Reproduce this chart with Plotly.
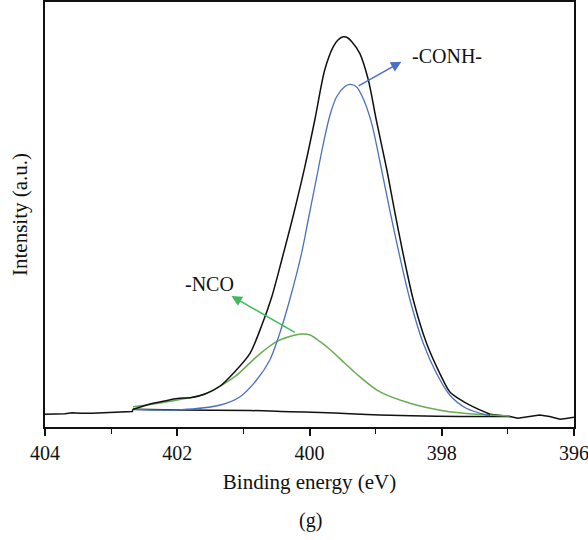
import plotly.graph_objects as go

# ---- data (binding energy in eV, intensity in arbitrary units) ----
env_e = [402.67, 402.41, 402.19, 402.00, 401.78, 401.58, 401.35, 401.13, 400.90, 400.72,
         400.57, 400.42, 400.25, 400.07, 399.92, 399.77, 399.64, 399.57, 399.49, 399.43,
         399.36, 399.24, 399.11, 398.99, 398.83, 398.71, 398.59, 398.43, 398.23, 398.03,
         397.88, 397.75, 397.53, 397.27]
env_i = [17.7, 23.0, 26.0, 28.5, 29.5, 33.0, 41.0, 55.3, 73.7, 102.0,
         130.3, 167.0, 210.3, 260.3, 307.0, 357.0, 380.3, 387.0, 390.3, 389.5,
         385.3, 373.7, 347.0, 307.0, 257.0, 215.0, 175.0, 127.0, 83.7, 53.7,
         35.3, 28.7, 20.3, 12.7]

conh_e = [402.67, 401.96, 401.35, 401.05, 400.80, 400.60, 400.45, 400.30, 400.12, 400.02,
          399.89, 399.79, 399.69, 399.59, 399.47, 399.39, 399.29, 399.19, 399.06, 398.94,
          398.78, 398.63, 398.48, 398.28, 398.08, 397.88, 397.63, 397.32, 397.27]
conh_i = [17.5, 17.2, 22.0, 30.3, 47.0, 67.0, 93.7, 127.0, 173.7, 207.0,
          250.3, 283.7, 312.0, 330.3, 340.3, 342.7, 340.3, 328.7, 303.7, 267.0,
          215.0, 169.0, 127.0, 83.7, 53.7, 32.0, 18.7, 12.0, 11.5]

nco_e = [402.67, 402.41, 401.96, 401.58, 401.13, 400.80, 400.50, 400.30, 400.12, 399.99,
         399.84, 399.69, 399.47, 399.24, 398.94, 398.48, 397.98, 397.47, 396.97]
nco_i = [20.3, 22.5, 27.5, 33.0, 50.3, 70.3, 85.3, 90.5, 93.0, 92.0,
         85.3, 77.5, 64.0, 50.3, 35.3, 23.7, 16.3, 12.7, 11.0]

bg_e = [402.67, 401.96, 400.90, 400.30, 399.84, 399.39, 398.94, 398.07, 396.97]
bg_i = [17.7, 17.0, 16.5, 15.3, 14.5, 13.3, 12.0, 10.7, 10.5]

tail_left_e = [404.00, 403.85, 403.70, 403.59, 403.47, 403.29, 403.17, 403.06, 402.87, 402.68, 402.67]
tail_left_i = [12.7, 12.7, 13.2, 14.3, 13.7, 13.7, 14.0, 14.7, 15.0, 15.5, 17.7]

tail_right_e = [397.27, 396.97, 396.85, 396.70, 396.52, 396.37, 396.21, 396.12, 396.00]
tail_right_i = [12.7, 10.5, 8.7, 10.0, 12.0, 10.5, 7.7, 8.5, 9.7]

x_ticks = [404, 402, 400, 398, 396]
x_tick_labels = ["404", "402", "400", "398", "396"]

BLACK = "#111111"
BLUE = "#4a70c0"
GREEN = "#66ad52"
GREEN_ARROW = "#3dbb5b"
FONT = "Liberation Serif"

fig = go.Figure()
line_black = dict(color=BLACK, width=1.5)
fig.add_trace(go.Scatter(x=tail_left_e, y=tail_left_i, mode="lines", line=line_black))
fig.add_trace(go.Scatter(x=tail_right_e, y=tail_right_i, mode="lines", line=line_black))
fig.add_trace(go.Scatter(x=bg_e, y=bg_i, mode="lines", line=dict(color=BLACK, width=1.5, shape="spline", smoothing=0.8)))
fig.add_trace(go.Scatter(x=nco_e, y=nco_i, mode="lines", line=dict(color=GREEN, width=1.5, shape="spline", smoothing=0.8)))
fig.add_trace(go.Scatter(x=conh_e, y=conh_i, mode="lines", line=dict(color=BLUE, width=1.3, shape="spline", smoothing=0.8)))
fig.add_trace(go.Scatter(x=env_e, y=env_i, mode="lines", line=dict(color=BLACK, width=1.5, shape="spline", smoothing=0.8)))

# arrows
fig.add_annotation(x=398.61, y=365.3, ax=399.28, ay=340.3, xref="x", yref="y", axref="x", ayref="y",
                   text="", showarrow=True, arrowhead=2, arrowsize=1.4, arrowwidth=1.5,
                   arrowcolor=BLUE, standoff=0, startstandoff=0)
fig.add_annotation(x=401.18, y=131.0, ax=400.20, ay=93.7, xref="x", yref="y", axref="x", ayref="y",
                   text="", showarrow=True, arrowhead=2, arrowsize=1.4, arrowwidth=1.5,
                   arrowcolor=GREEN_ARROW, standoff=0, startstandoff=0)
fig.add_annotation(x=398.48, y=371.0, xref="x", yref="y", text="-CONH-", showarrow=False,
                   xanchor="left", yanchor="middle", font=dict(family=FONT, size=20, color=BLACK))
fig.add_annotation(x=401.51, y=143.5, xref="x", yref="y", text="-NCO", showarrow=False,
                   xanchor="center", yanchor="middle", font=dict(family=FONT, size=20, color=BLACK))
fig.add_annotation(x=0.501, y=-0.219, xref="paper", yref="paper", text="(g)", showarrow=False,
                   xanchor="center", yanchor="middle", font=dict(family=FONT, size=20, color=BLACK))

fig.update_layout(
    width=588, height=540,
    margin=dict(l=45, r=14, t=2, b=113, autoexpand=False),
    paper_bgcolor="white", plot_bgcolor="white",
    showlegend=False,
    font=dict(family=FONT, size=20, color=BLACK),
)
fig.update_xaxes(
    range=[404, 396], tickvals=x_ticks, ticktext=x_tick_labels,
    ticks="outside", ticklen=7, tickwidth=1.5, tickcolor=BLACK,
    minor=dict(dtick=1, tick0=404, ticks="outside", ticklen=5, tickwidth=1.3, tickcolor=BLACK),
    showline=True, linecolor=BLACK, linewidth=1.5, mirror=True,
    showgrid=False, zeroline=False, automargin=False, ticklabeloverflow="allow",
    tickfont=dict(family=FONT, size=20, color=BLACK),
    title=dict(text="Binding energy (eV)", font=dict(family=FONT, size=21, color=BLACK), standoff=12),
)
fig.update_yaxes(
    range=[0, 425], showticklabels=False, ticks="",
    showline=True, linecolor=BLACK, linewidth=1.5, mirror=True,
    showgrid=False, zeroline=False, automargin=False,
    title=dict(text="Intensity (a.u.)", font=dict(family=FONT, size=21, color=BLACK), standoff=10),
)

fig.write_html("out.html", config={"displayModeBar": False},
               post_script="document.body.style.margin='0';")
